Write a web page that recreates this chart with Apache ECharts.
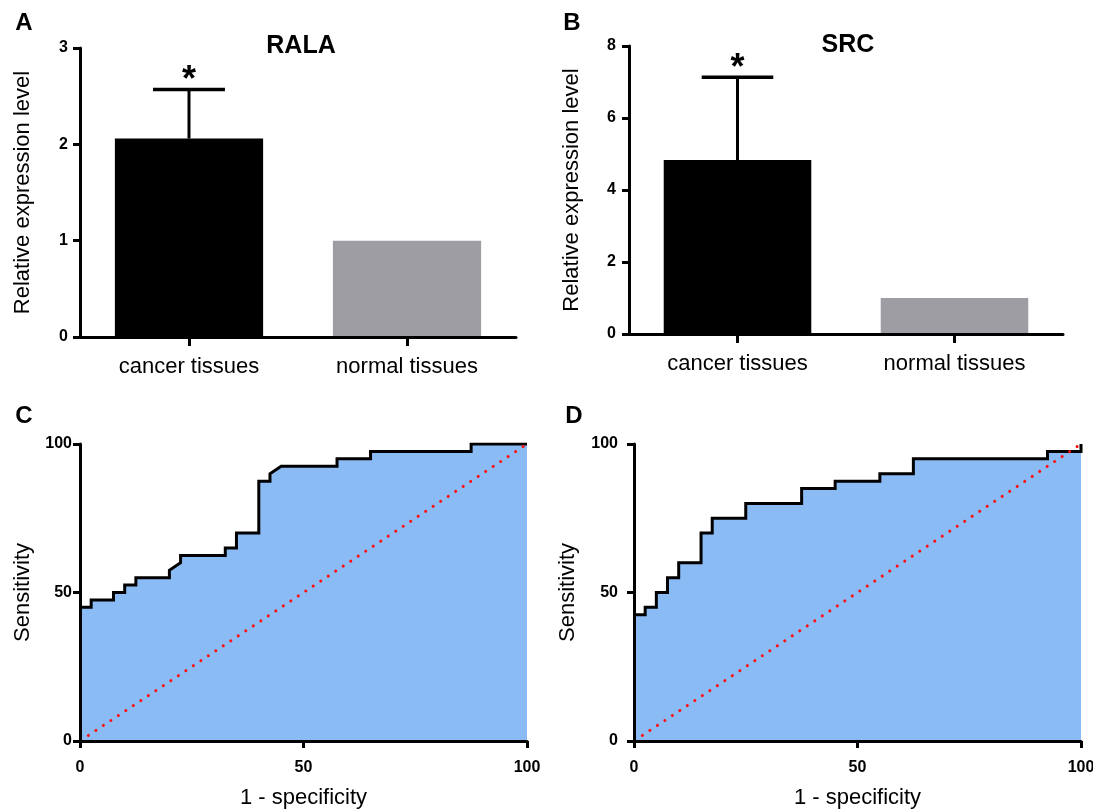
<!DOCTYPE html>
<html><head><meta charset="utf-8">
<script src="https://cdn.jsdelivr.net/npm/echarts@6/dist/echarts.min.js"></script>
<style>html,body{margin:0;padding:0;background:#fff}#c{width:1093px;height:810px}</style>
</head><body><div id="c"></div>
<script>
// ---- data ----
const categories = ['cancer tissues', 'normal tissues'];
const ralaMeans = [2.06, 1.0];
const ralaErrors = [0.51, 0];
const srcMeans = [4.83, 1.0];
const srcErrors = [2.30, 0];
const significance = ['*', ''];
const ralaTicks = [0, 1, 2, 3];
const srcTicks = [0, 2, 4, 6, 8];
const rocTicks = [0, 50, 100];
// ROC curves: [1 - specificity (%), sensitivity (%)]
const rocRALA = [[0,45],[2.5,45],[2.5,47.5],[7.5,47.5],[7.5,50],[10,50],[10,52.5],[12.5,52.5],[12.5,55],[20,55],[20,57.5],[22.5,60],[22.5,62.5],[32.5,62.5],[32.5,65],[35,65],[35,70],[40,70],[40,87.5],[42.5,87.5],[42.5,90],[45,92.5],[57.5,92.5],[57.5,95],[65,95],[65,97.5],[87.5,97.5],[87.5,100],[100,100]];
const rocSRC = [[0,42.5],[2.5,42.5],[2.5,45],[5,45],[5,50],[7.5,50],[7.5,55],[10,55],[10,60],[15,60],[15,70],[17.5,70],[17.5,75],[25,75],[25,80],[37.5,80],[37.5,85],[45,85],[45,87.5],[55,87.5],[55,90],[62.5,90],[62.5,95],[92.5,95],[92.5,97.5],[100,97.5],[100,100]];
const chanceLine = [[0,0],[100,100]];

// ---- styles ----
const FF = '"Liberation Sans", Arial, Helvetica, sans-serif';
const axisLineStyle = {color:'#000', width:3};
const tickLabel = {color:'#000', fontSize:16, fontWeight:'bold', fontFamily:FF};
const nameStyle = {color:'#000', fontSize:22, fontFamily:FF};

function valueYAxis(grid, ticks, name, margin, nameGap){
  return {type:'value', gridIndex:grid, min:ticks[0], max:ticks[ticks.length-1],
    interval:ticks[1]-ticks[0], z:5,
    axisLine:{show:true, lineStyle:axisLineStyle},
    axisTick:{show:true, length:7, lineStyle:{color:'#000', width:3}},
    axisLabel:Object.assign({margin:margin}, tickLabel),
    splitLine:{show:false},
    name:name, nameLocation:'middle', nameGap:nameGap, nameTextStyle:nameStyle};
}
function catXAxis(grid){
  return {type:'category', gridIndex:grid, data:categories, z:5,
    axisLine:{show:true, lineStyle:axisLineStyle},
    axisTick:{show:true, alignWithLabel:true, length:9, lineStyle:{color:'#000', width:3}},
    axisLabel:{color:'#000', fontSize:22, fontFamily:FF, margin:19},
    splitLine:{show:false}};
}
function rocXAxis(grid){
  return {type:'value', gridIndex:grid, min:rocTicks[0], max:rocTicks[rocTicks.length-1],
    interval:rocTicks[1]-rocTicks[0], z:5,
    axisLine:{show:true, lineStyle:axisLineStyle},
    axisTick:{show:true, length:7, lineStyle:{color:'#000', width:3}},
    axisLabel:Object.assign({margin:19}, tickLabel),
    splitLine:{show:false},
    name:'1 - specificity', nameLocation:'middle', nameGap:46, nameTextStyle:nameStyle};
}

function errorRender(marks){
  return function(params, api){
    const i = api.value(0), m = api.value(1), e = api.value(2);
    const children = [];
    const top = api.coord([i, m + e]);
    if (e > 0) {
      const base = api.coord([i, m]);
      const hw = api.size([1, 0])[0] * 0.165;
      children.push({type:'line', shape:{x1:base[0], y1:base[1], x2:top[0], y2:top[1]}, style:{stroke:'#000', lineWidth:3}});
      children.push({type:'line', shape:{x1:top[0]-hw, y1:top[1], x2:top[0]+hw, y2:top[1]}, style:{stroke:'#000', lineWidth:3.5}});
    }
    if (marks[i]) {
      children.push({type:'text', x:top[0], y:top[1]-8, style:{text:marks[i], font:'bold 36px ' + FF, fill:'#000', align:'center', verticalAlign:'middle'}});
    }
    return {type:'group', children:children};
  };
}

function barSeries(grid, means){
  return {type:'bar', xAxisIndex:grid, yAxisIndex:grid, barWidth:'68%',
    data: means.map((v, i) => ({value:v, itemStyle:{color: i === 0 ? '#000000' : '#9e9da3'}})),
    z:2};
}
function errSeries(grid, means, errs){
  return {type:'custom', xAxisIndex:grid, yAxisIndex:grid, z:3,
    data: means.map((v, i) => [i, v, errs[i]]),
    renderItem: errorRender(significance)};
}
function rocSeries(grid, data){
  return {type:'line', xAxisIndex:grid, yAxisIndex:grid, data:data, symbol:'none', z:3,
    lineStyle:{color:'#000', width:3, join:'miter'},
    areaStyle:{color:'#8bbbf5', opacity:1}};
}
function chanceSeries(grid){
  return {type:'line', xAxisIndex:grid, yAxisIndex:grid, data:chanceLine, symbol:'none', z:4,
    lineStyle:{color:'#ff1010', width:3, type:[0.1, 8.9], cap:'round', dashOffset:-1}};
}

function label(txt, x, y, size){
  return {type:'text', x:x, y:y, z:10, style:{text:txt, font:'bold ' + size + 'px ' + FF, fill:'#000', align:'center', verticalAlign:'middle'}};
}

const chart = echarts.init(document.getElementById('c'), null, {renderer:'canvas'});
chart.setOption({
  backgroundColor:'#fff',
  animation:false,
  grid:[
    {left:80, top:48, width:436, height:289, outerBoundsMode:'none'},
    {left:629, top:46, width:434, height:288, outerBoundsMode:'none'},
    {left:80, top:444, width:447, height:297, outerBoundsMode:'none'},
    {left:634, top:444, width:447, height:297, outerBoundsMode:'none'}
  ],
  xAxis:[catXAxis(0), catXAxis(1), rocXAxis(2), rocXAxis(3)],
  yAxis:[
    valueYAxis(0, ralaTicks, 'Relative expression level', 12, 46),
    valueYAxis(1, srcTicks, 'Relative expression level', 13, 46),
    valueYAxis(2, rocTicks, 'Sensitivity', 8, 46),
    valueYAxis(3, rocTicks, 'Sensitivity', 16, 55)
  ],
  graphic:[
    label('A', 24, 23, 24), label('B', 572, 23, 24),
    label('C', 24, 416, 24), label('D', 574, 416, 24),
    label('RALA', 301, 46, 25), label('SRC', 848, 45, 25)
  ],
  series:[
    barSeries(0, ralaMeans), errSeries(0, ralaMeans, ralaErrors),
    barSeries(1, srcMeans), errSeries(1, srcMeans, srcErrors),
    rocSeries(2, rocRALA), chanceSeries(2),
    rocSeries(3, rocSRC), chanceSeries(3)
  ]
});
</script></body></html>
